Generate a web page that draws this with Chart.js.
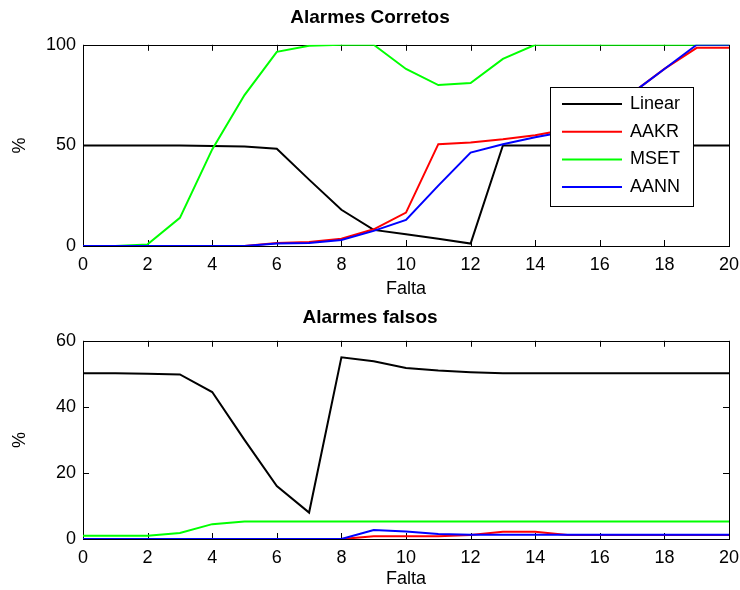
<!DOCTYPE html>
<html>
<head>
<meta charset="utf-8">
<script src="https://cdn.jsdelivr.net/npm/chart.js@4/dist/chart.umd.min.js"></script>
<style>
  body { margin: 0; background: #fff; }
  #wrap { position: relative; width: 740px; height: 590px; }
  #top { position: absolute; left: 0; top: 0; }
  #bottom { position: absolute; left: 0; top: 300px; }
</style>
</head>
<body>
<div id="wrap">
  <canvas id="top" width="740" height="300"></canvas>
  <canvas id="bottom" width="740" height="290"></canvas>
</div>
<script>
// falta (x axis), 0..20
var falta = [0,1,2,3,4,5,6,7,8,9,10,11,12,13,14,15,16,17,18,19,20];
var seriesNames = ["Linear", "AAKR", "MSET", "AANN"];
var seriesColors = ["#000000", "#ff0000", "#00ff00", "#0000ff"];

// Alarmes Corretos (%)
var corretosLinear = [50,50,50,50,49.7,49.5,48.3,33,18,8,5.8,3.6,1.2,50,50,50,50,50,50,50,50];
var corretosAAKR   = [0,0,0,0,0,0,1.5,2,3.6,8.3,16.6,50.6,51.4,53,55,58,64,76,88,98.5,98.5];
var corretosMSET   = [0,0,0.8,14,48,75,96.5,99.5,100,100,88,80,81,93,100,100,100,100,100,100,100];
var corretosAANN   = [0,0,0,0,0,0,1.2,1.5,3,7.5,13,30,46.4,50.6,54,57,64,76,88,100,100];

// Alarmes falsos (%)
var falsosLinear = [50.2,50.2,50,49.8,44.5,30,16,8,55,53.8,51.8,51,50.5,50.2,50.2,50.2,50.2,50.2,50.2,50.2,50.2];
var falsosAAKR   = [0,0,0,0,0,0,0,0,0,0.8,0.8,0.8,1.2,2.2,2.2,1.2,1.2,1.2,1.2,1.2,1.2];
var falsosMSET   = [1,1,1,1.8,4.5,5.3,5.3,5.3,5.3,5.3,5.3,5.3,5.3,5.3,5.3,5.3,5.3,5.3,5.3,5.3,5.3];
var falsosAANN   = [0,0,0,0,0,0,0,0,0,2.7,2.3,1.5,1.3,1.3,1.3,1.3,1.3,1.3,1.3,1.3,1.3];

var xTicks = [0,2,4,6,8,10,12,14,16,18,20];

Chart.defaults.font.family = "'Liberation Sans', Arial, sans-serif";
Chart.defaults.font.size = 18;
Chart.defaults.color = "#000";

function makeDatasets(lists) {
  return lists.map(function (vals, i) {
    return {
      label: seriesNames[i],
      data: falta.map(function (x, j) { return { x: x, y: vals[j] }; }),
      borderColor: seriesColors[i],
      backgroundColor: seriesColors[i],
      borderWidth: 2,
      pointRadius: 0,
      tension: 0,
      order: 4 - i
    };
  });
}

// axes box with inward ticks on all sides (matlab look)
var boxPlugin = {
  id: "box",
  beforeDatasetsDraw(chart) {
    const ctx = chart.ctx;
    const a = chart.chartArea;
    const x = chart.scales.x, y = chart.scales.y;
    ctx.save();
    ctx.strokeStyle = "#000";
    ctx.lineWidth = 1;
    ctx.strokeRect(Math.round(a.left) + 0.5, Math.round(a.top) + 0.5,
      Math.round(a.right - a.left), Math.round(a.bottom - a.top));
    ctx.beginPath();
    x.ticks.forEach(function (t) {
      const px = Math.round(x.getPixelForValue(t.value)) + 0.5;
      ctx.moveTo(px, a.top); ctx.lineTo(px, a.top + 6);
      ctx.moveTo(px, a.bottom); ctx.lineTo(px, a.bottom - 6);
    });
    y.ticks.forEach(function (t) {
      const py = Math.round(y.getPixelForValue(t.value)) + 0.5;
      ctx.moveTo(a.left, py); ctx.lineTo(a.left + 6, py);
      ctx.moveTo(a.right, py); ctx.lineTo(a.right - 6, py);
    });
    ctx.stroke();
    ctx.restore();
  }
};

// legend box inside the plot area
var boxLegend = {
  id: "boxLegend",
  afterDatasetsDraw(chart, args, opts) {
    if (!opts.show) return;
    const ctx = chart.ctx;
    const a = chart.chartArea;
    const left = Math.round(a.right - 179), top = Math.round(a.top + 42);
    const w = 143, h = 119;
    ctx.save();
    ctx.fillStyle = "#fff";
    ctx.fillRect(left, top, w, h);
    ctx.strokeStyle = "#000";
    ctx.lineWidth = 1;
    ctx.strokeRect(left + 0.5, top + 0.5, w, h);
    ctx.font = "18px 'Liberation Sans', Arial, sans-serif";
    ctx.textBaseline = "middle";
    chart.data.datasets.forEach(function (ds, i) {
      const yy = top + 17 + i * 27.7;
      ctx.strokeStyle = ds.borderColor;
      ctx.lineWidth = 2;
      ctx.beginPath();
      ctx.moveTo(left + 12, yy); ctx.lineTo(left + 72, yy);
      ctx.stroke();
      ctx.fillStyle = "#000";
      ctx.fillText(ds.label, left + 80, yy);
    });
    ctx.restore();
  }
};

function makeChart(id, title, lists, yMax, yStep, titlePad, xHeight, legend) {
  return new Chart(document.getElementById(id), {
    type: "line",
    data: { datasets: makeDatasets(lists) },
    options: {
      responsive: false,
      animation: false,
      layout: { padding: { left: 0, right: 0, top: 0, bottom: 0 } },
      plugins: {
        legend: { display: false },
        tooltip: { enabled: false },
        title: {
          display: true,
          text: title,
          font: { size: 19, weight: "bold" },
          color: "#000",
          padding: titlePad
        },
        boxLegend: { show: legend }
      },
      scales: {
        x: {
          type: "linear",
          min: 0, max: 20,
          afterBuildTicks: function (s) { s.ticks = xTicks.map(function (v) { return { value: v }; }); },
          afterFit: function (s) { s.height = xHeight; s.paddingRight = 11; },
          grid: { display: false, drawTicks: false },
          border: { display: false },
          ticks: { padding: 8, maxRotation: 0 },
          title: { display: true, text: "Falta", padding: 0 }
        },
        y: {
          min: 0, max: yMax,
          afterFit: function (s) { s.width = 83; },
          grid: { display: false, drawTicks: false },
          border: { display: false },
          ticks: { stepSize: yStep, padding: 7 },
          title: { display: true, text: "%", padding: { top: 9, bottom: 0 } }
        }
      }
    },
    plugins: [boxPlugin, boxLegend]
  });
}

makeChart("top", "Alarmes Corretos",
  [corretosLinear, corretosAAKR, corretosMSET, corretosAANN],
  100, 50, { top: 6, bottom: 16 }, 54, true);
makeChart("bottom", "Alarmes falsos",
  [falsosLinear, falsosAAKR, falsosMSET, falsosAANN],
  60, 20, { top: 6, bottom: 12 }, 51, false);
</script>
</body>
</html>
